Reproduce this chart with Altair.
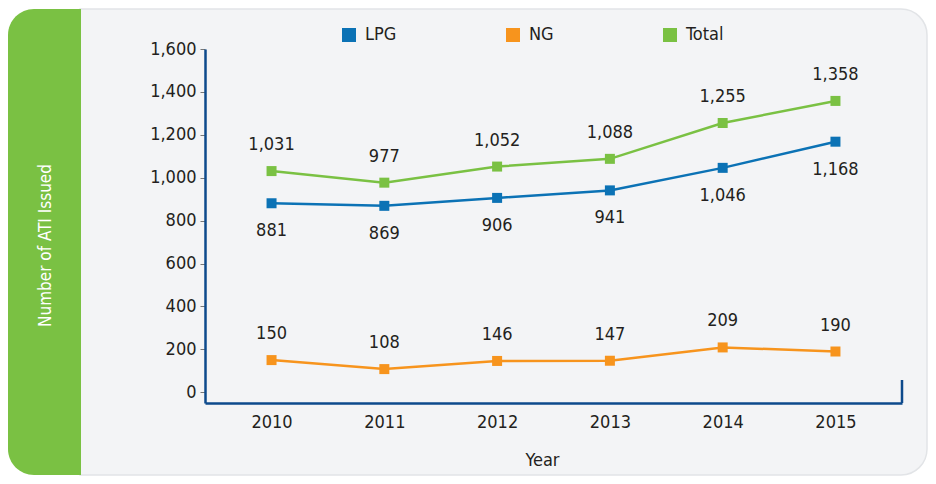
import altair as alt
import pandas as pd

years = ["2010", "2011", "2012", "2013", "2014", "2015"]
lpg = [881, 869, 906, 941, 1046, 1168]
ng = [150, 108, 146, 147, 209, 190]
total = [1031, 977, 1052, 1088, 1255, 1358]
series = ["LPG", "NG", "Total"]
colors = ["#0b72b5", "#f7941d", "#7ac143"]
y_ticks = [0, 200, 400, 600, 800, 1000, 1200, 1400, 1600]

rows = []
for s, vals in zip(series, [lpg, ng, total]):
    for yr, v in zip(years, vals):
        rows.append({"Year": yr, "series": s, "value": v})
df = pd.DataFrame(rows)

FONT = "DejaVu Sans Condensed, Roboto, sans-serif"
FS = 18
TXT = "#231f20"
AXC = "#0d4a8c"
W, H = 697, 354
PL, PT = 197, 41
TW, TH = 920, 468

x = alt.X("Year:O", scale=alt.Scale(type="point", padding=0.59),
          axis=alt.Axis(title="Year", labelAngle=0, ticks=False, domainColor=AXC,
                        domainWidth=2.5, labelPadding=10, labelFontSize=FS, labelColor=TXT,
                        labelFont=FONT, titleFont=FONT, titleFontSize=FS,
                        titleFontWeight="normal", titleColor=TXT, titleX=337, titleY=57,
                        titleBaseline="middle", titleAlign="center", zindex=2))
y = alt.Y("value:Q", scale=alt.Scale(domain=[-50, 1600], nice=False, zero=False),
          axis=alt.Axis(values=y_ticks, format=",d", title="Number of ATI Issued",
                        titleColor="white", titleFont=FONT, titleFontSize=17,
                        titleFontWeight="normal", titleX=-160, titleY=196,
                        titleAngle=270, titleBaseline="middle", titleAlign="center",
                        domainColor=AXC, domainWidth=2.5, tickColor="#777777",
                        tickSize=5, tickWidth=1, labelPadding=4, labelFontSize=FS,
                        labelColor=TXT, labelFont=FONT, grid=False, zindex=2))
legend = alt.Legend(orient="none", legendX=135, legendY=-23,
                    direction="horizontal", title=None,
                    symbolType="square", symbolSize=196,
                    symbolStrokeWidth=0, symbolOpacity=1,
                    labelFontSize=FS, labelFont=FONT, labelColor=TXT, labelOffset=7,
                    columnPadding=107, zindex=2)
color = alt.Color("series:N", scale=alt.Scale(domain=series, range=colors), legend=legend)

one = pd.DataFrame({"k": [0]})
bg = alt.Chart(one).mark_rect(color="#f3f4f6", stroke="#e2e4e7", strokeWidth=1.5,
                              cornerRadiusTopRight=26, cornerRadiusBottomRight=26).encode(
    x=alt.value(-125), x2=alt.value(TW - PL - 1), y=alt.value(-PT + 1), y2=alt.value(TH - PT - 1))
green = alt.Chart(one).mark_rect(color="#7ac143", cornerRadiusTopLeft=26,
                                 cornerRadiusBottomLeft=26).encode(
    x=alt.value(-PL), x2=alt.value(-124), y=alt.value(-PT + 1), y2=alt.value(TH - PT - 1))
endtick = alt.Chart(one).mark_rule(color=AXC, strokeWidth=2.5).encode(
    x=alt.value(W), y=alt.value(H - 23), y2=alt.value(H))

lines = alt.Chart(df).mark_line(strokeWidth=2.5).encode(x=x, y=y, color=color)
points = alt.Chart(df).mark_point(shape="square", filled=True, size=100, opacity=1).encode(
    x=x, y=y, color=color)
above = alt.Chart(df).transform_filter("datum.series != 'LPG'").mark_text(
    dy=-26, fontSize=FS, font=FONT, color=TXT, baseline="middle").encode(
    x=x, y=y, text=alt.Text("value:Q", format=",d"))
below = alt.Chart(df).transform_filter("datum.series == 'LPG'").mark_text(
    dy=28, fontSize=FS, font=FONT, color=TXT, baseline="middle").encode(
    x=x, y=y, text=alt.Text("value:Q", format=",d"))

chart = alt.layer(bg, green, endtick, lines, points, above, below).properties(
    width=W, height=H,
    autosize=alt.AutoSizeParams(type="none"),
    padding={"left": PL, "top": PT, "right": TW - PL - W, "bottom": TH - PT - H},
    background="white",
).configure_view(stroke=None)

chart.save("out.html", embed_options={"renderer": "svg", "actions": False})
